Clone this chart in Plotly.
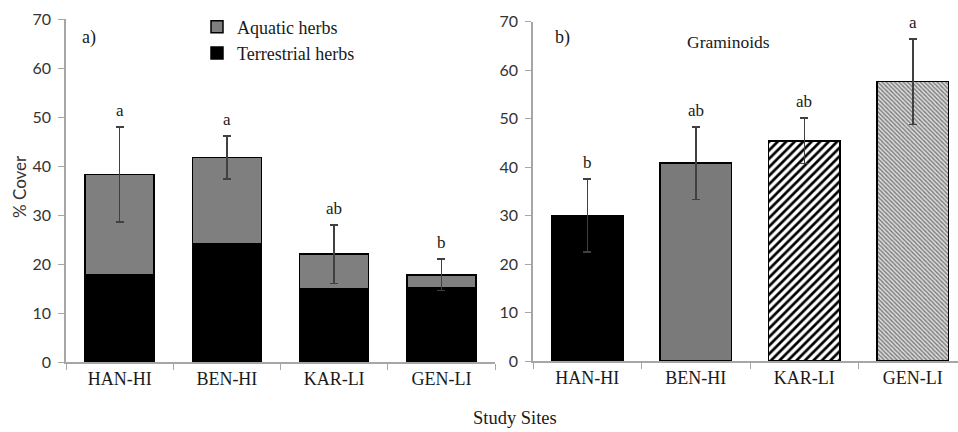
import plotly.graph_objects as go

sites = ["HAN-HI", "BEN-HI", "KAR-LI", "GEN-LI"]

# Panel a) herbs (% cover)
terrestrial = [17.9, 24.2, 15.0, 15.2]
aquatic_total = [38.3, 41.7, 22.0, 17.8]
aquatic = [t - b for t, b in zip(aquatic_total, terrestrial)]
herbs_err = [9.7, 4.4, 6.0, 3.2]
herbs_letters = ["a", "a", "ab", "b"]

# Panel b) graminoids (% cover)
graminoids = [30.0, 40.8, 45.4, 57.6]
gram_err = [7.5, 7.5, 4.7, 8.8]
gram_letters = ["b", "ab", "ab", "a"]

SERIF = "Liberation Serif"
SANS = "Lato"
AXIS_COL = "#a6a6a6"
TXT = "#1a1a1a"

fig = go.Figure()

fig.add_trace(go.Bar(
    x=sites, y=terrestrial, name="Terrestrial herbs",
    marker=dict(color="#000000", line=dict(color="#000000", width=1.5)),
    width=0.645, xaxis="x", yaxis="y",
))
fig.add_trace(go.Bar(
    x=sites, y=aquatic, name="Aquatic herbs",
    marker=dict(color="#7f7f7f", line=dict(color="#000000", width=1.5)),
    width=0.645, xaxis="x", yaxis="y",
    error_y=dict(type="data", array=herbs_err, visible=True,
                 color="#404040", thickness=1.5, width=4),
))

# per-site fill styles for panel b
gram_styles = [
    dict(color="#000000"),
    dict(color="#7a7a7a"),
    dict(color="#ffffff", pattern=dict(shape="/", size=6, solidity=0.45,
                                       fgcolor="#000000", bgcolor="#ffffff",
                                       fillmode="replace")),
    dict(color="#d4d4d4", pattern=dict(shape="\\", size=3, solidity=0.45,
                                       fgcolor="#7a7a7a", bgcolor="#dcdcdc",
                                       fillmode="replace")),
]
for i, s in enumerate(sites):
    m = dict(gram_styles[i])
    m["line"] = dict(color="#000000", width=1.5)
    fig.add_trace(go.Bar(
        x=[s], y=[graminoids[i]], name="Graminoids " + s, showlegend=False,
        marker=m, width=0.66, xaxis="x2", yaxis="y2",
        error_y=dict(type="data", array=[gram_err[i]], visible=True,
                     color="#404040", thickness=1.5, width=4),
    ))

annotations = []
for s, tot, e, L in zip(sites, aquatic_total, herbs_err, herbs_letters):
    annotations.append(dict(x=s, y=tot + e, xref="x", yref="y", text=L,
                            showarrow=False, xanchor="center", yanchor="bottom", yshift=5,
                            font=dict(family=SERIF, size=17, color=TXT)))
for s, v, e, L in zip(sites, graminoids, gram_err, gram_letters):
    annotations.append(dict(x=s, y=v + e, xref="x2", yref="y2", text=L,
                            showarrow=False, xanchor="center", yanchor="bottom", yshift=5,
                            font=dict(family=SERIF, size=17, color=TXT)))

def note(px, py, text, font, angle=0):
    return dict(x=px / 958, y=1 - py / 432, xref="paper", yref="paper", text=text,
                xanchor="center", yanchor="middle", textangle=angle,
                showarrow=False, font=font)

serif18 = dict(family=SERIF, size=18, color=TXT)
annotations += [
    note(89, 37, "a)", serif18),
    note(562, 37, "b)", serif18),
    note(728, 42, "Graminoids", dict(family=SERIF, size=17.5, color=TXT)),
    note(515, 418, "Study Sites", dict(family=SERIF, size=18.5, color=TXT)),
    note(19, 187, "% Cover", dict(family=SANS, size=17, color="#333333"), angle=-90),
]

xcommon = dict(type="category", showline=True, linecolor=AXIS_COL, linewidth=1.5,
               ticks="outside", tickson="boundaries", ticklen=6, tickcolor=AXIS_COL,
               showgrid=False, zeroline=False, automargin=False,
               tickfont=dict(family=SERIF, size=18, color=TXT))
ycommon = dict(range=[0, 70], dtick=10, showline=True, linecolor=AXIS_COL, linewidth=1.5,
               ticks="outside", ticklen=6, tickcolor=AXIS_COL, showgrid=False,
               zeroline=False, automargin=False,
               tickfont=dict(family=SANS, size=16, color="#333333"),
               ticklabelstandoff=4)

fig.update_layout(
    width=958, height=432,
    margin=dict(l=0, r=0, t=0, b=0, pad=0, autoexpand=False),
    paper_bgcolor="white", plot_bgcolor="white",
    barmode="stack",
    xaxis=dict(domain=[66 / 958, 495 / 958], range=[-0.5, 3.5], anchor="y", **xcommon),
    yaxis=dict(domain=[(432 - 362) / 432, (432 - 19) / 432], anchor="x", **ycommon),
    xaxis2=dict(domain=[533 / 958, 1.0], range=[-0.5, 3.417], anchor="y2", **xcommon),
    yaxis2=dict(domain=[(432 - 361) / 432, (432 - 21.5) / 432], anchor="x2", **ycommon),
    legend=dict(x=197 / 958, y=1 - 8.5 / 432, xanchor="left", yanchor="top",
                traceorder="reversed", bgcolor="rgba(0,0,0,0)",
                font=dict(family=SERIF, size=18, color=TXT),
                itemwidth=30, tracegroupgap=0),
    annotations=annotations,
    showlegend=True,
)

fig.write_html("out.html")
